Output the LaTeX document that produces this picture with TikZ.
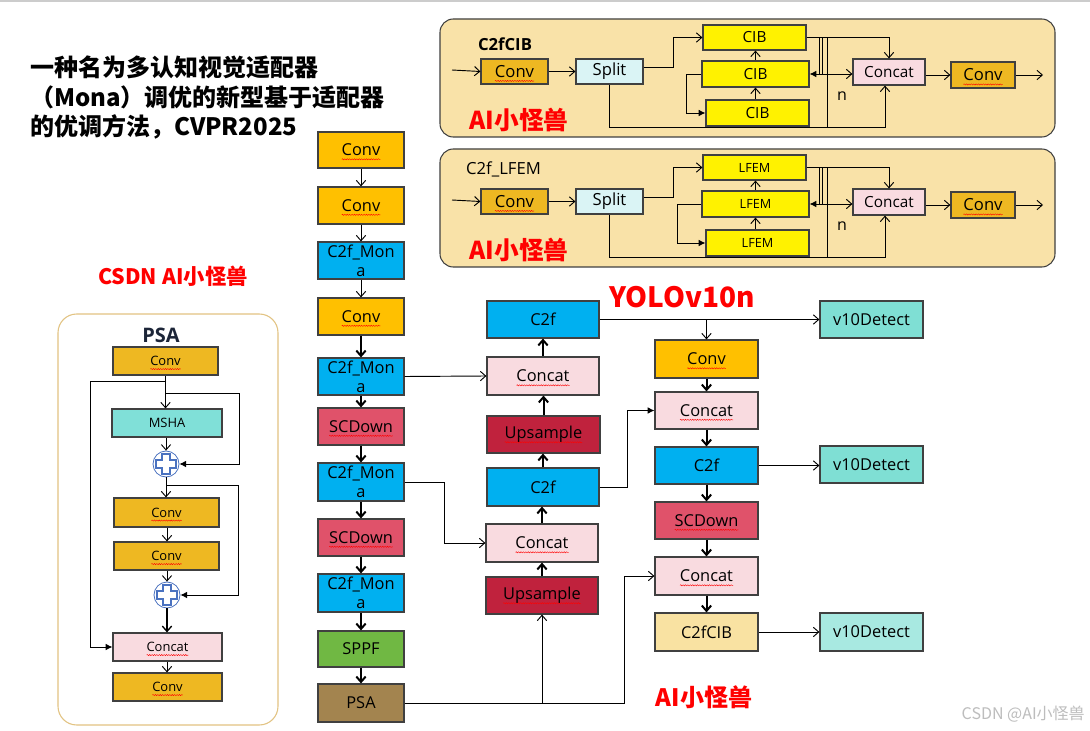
\documentclass[tikz,border=0pt]{standalone}
\usepackage{fontspec}
\setmainfont{Open Sans}
\newfontfamily\cjk{Noto Sans CJK SC}
\usetikzlibrary{arrows.meta,calc,decorations.pathmorphing}
\definecolor{cConv}{HTML}{FFC000}
\definecolor{cMona}{HTML}{00B0F0}
\definecolor{cSCD}{HTML}{E0526A}
\definecolor{cSPPF}{HTML}{70B843}
\definecolor{cPSA}{HTML}{A3844F}
\definecolor{cCat}{HTML}{F9DBE0}
\definecolor{cUp}{HTML}{C0223D}
\definecolor{cDet}{HTML}{7FDFD4}
\definecolor{cDetL}{HTML}{A8E9E1}
\definecolor{cCIBn}{HTML}{F9E2A2}
\definecolor{cPanel}{HTML}{F9E2A8}
\definecolor{cGold}{HTML}{EEB822}
\definecolor{cSplit}{HTML}{DAF4F5}
\definecolor{cMSHA}{HTML}{80E0D8}
\definecolor{cPsaBorder}{HTML}{E2C382}
\definecolor{cPlus}{HTML}{4A72C0}
\definecolor{cRed}{HTML}{FF0000}
\definecolor{cMark}{HTML}{BDBDBD}
\definecolor{cPsaT}{HTML}{1C2538}
\definecolor{cEdge}{HTML}{404040}
\definecolor{cTop}{HTML}{CCCCCC}
\newsavebox\sqbox
\newcommand\sq[1]{\sbox\sqbox{#1}\rlap{\tikz[overlay]\draw[red, line width=0.3pt, decorate, decoration={snake, amplitude=0.45pt, segment length=1.8pt}] (0pt,-2.6pt) -- (\wd\sqbox,-2.6pt);}\usebox\sqbox}
\newcommand\bx[7]{\node[#6, minimum width={(#4-#2)*0.75pt}, minimum height={(#5-#3)*0.75pt}] (#1) at ({(#2+#4)/2},{(#3+#5)/2}) {#7};}
\newcommand\crossat[1]{\draw[cPlus, line width=0.9pt, fill=white, shift={(#1)}] (-4,-10) -- (4,-10) -- (4,-4) -- (10,-4) -- (10,4) -- (4,4) -- (4,10) -- (-4,10) -- (-4,4) -- (-10,4) -- (-10,-4) -- (-4,-4) -- cycle;}
% #1 prefix, #2 yshift, #3 title, #4 block text, #5 title position, #6 loop offset
\newcommand\cfpanel[6]{%
\begin{scope}[yshift=#2]
\bx{#1bg}{440}{19}{1055}{137}{draw=cEdge, line width=0.8pt, rounded corners=10pt, fill=cPanel}{}
\node[font=\fontsize{12.5}{14}\selectfont, inner sep=0pt] (#1title) at #5 {#3};
\bx{#1conv}{481}{59}{548}{84}{cbx,fill=cGold}{\sq{Conv}}
\bx{#1split}{576}{59}{643}{84}{cbx,fill=cSplit}{Split}
\bx{#1ba}{703}{25}{806}{50}{cbx,fill=yellow}{#4}
\bx{#1bb}{702}{61}{809}{87}{cbx,fill=yellow}{#4}
\bx{#1bc}{706}{100}{809}{126}{cbx,fill=yellow}{#4}
\bx{#1cat}{853}{59}{925}{85}{cbx,fill=cCat,font=\fontsize{11.5}{13}\selectfont}{Concat}
\bx{#1convb}{951}{62}{1015}{88}{cbx,fill=cGold}{\sq{Conv}}
\coordinate (#1in) at (452,70);
\coordinate (#1out) at (1043,75);
\draw[ar] (#1in) -- (#1conv.west);
\draw[ar] (#1conv.east) -- (#1split.west);
\draw[ar] ([yshift=3pt]#1split.east) -- ++(30,0) |- (#1ba.west);
\draw[ar] (#1bb.north) -- (#1bb.north |- #1ba.south);
\draw[ar] (#1bb.south |- #1bc.north) -- (#1bb.south);
\draw[fa] (#1bb.west) -- ++(#6,0) |- (#1bc.west);
\draw[ar] (#1ba.east) -| (#1cat.north);
\coordinate (#1j) at (819.5,74);
\draw[ln] (819.5,37.5) -- (#1j);
\draw[ln] (822.5,37.5) -- (822.5,74);
\draw[fa] (#1j) -- (#1bb.east);
\draw[ar] (#1j) -- (#1cat.west |- #1bb.east);
\draw[ar] (#1split.south) -- (609.5,127) -| ([xshift=-3pt]#1cat.south);
\draw[ln] (827.5,37.5) -- (827.5,127);
\node[font=\fontsize{12}{13}\selectfont, inner sep=0pt] (#1n) at (842,96) {n};
\node[lbl, font=\cjk\bfseries\fontsize{18.5}{20}\selectfont] (#1ai) at (519,120) {AI小怪兽};
\draw[ar] (#1cat.east |- #1convb.west) -- (#1convb.west);
\draw[ar] (#1convb.east) -- (#1out);
\end{scope}}
\begin{document}
\begin{tikzpicture}[x=0.75pt,y=-0.75pt,
  bx/.style={draw=cEdge, line width=0.9pt, inner sep=0pt, align=center, font=\fontsize{12.3}{14}\selectfont},
  cbx/.style={bx, font=\fontsize{12.5}{14}\selectfont},
  pbx/.style={bx, font=\fontsize{9.7}{11}\selectfont},
  ar/.style={line width=0.7pt, -{Straight Barb[length=4pt,width=7pt]}},
  tk/.style={line width=1.5pt, -{Straight Barb[length=4pt,width=7pt]}},
  fa/.style={line width=0.7pt, -{Latex[length=5pt,width=5pt]}},
  ln/.style={line width=0.7pt},
  lbl/.style={text=cRed, inner sep=0pt},
  pl/.style={circle, draw=cPlus, fill=white, line width=0.6pt, minimum size=19.5pt, inner sep=0pt},
]
\useasboundingbox[fill=white] (0,0) rectangle (1090,731);
\draw[cTop, line width=1.2pt] (0,1) -- (1090,1);

% title
\node[anchor=north west, align=left, inner sep=0pt, font=\cjk\bfseries\fontsize{18}{22}\selectfont] (title) at (30,56) {一种名为多认知视觉适配器\\（Mona）调优的新型基于适配器\\的优调方法，CVPR2025};

% panels
\cfpanel{pa}{0pt}{\bfseries C2fCIB}{\fontsize{11.5}{13}\selectfont CIB}{(505,44)}{-15}
\cfpanel{pb}{-97.5pt}{C2f\_LFEM}{\fontsize{9.5}{11}\selectfont LFEM}{(503.5,39)}{-23.5}

% PSA panel
\bx{psabg}{58}{314}{278}{725}{draw=cPsaBorder, line width=0.8pt, rounded corners=14pt, fill=white}{}
\node[font=\bfseries\fontsize{15}{16}\selectfont, text=cPsaT, inner sep=0pt] (psat) at (161,335) {PSA};
\bx{pc1}{113}{347}{218}{375}{pbx,fill=cGold}{\sq{Conv}}
\bx{pmsha}{112}{409}{222}{437}{pbx,fill=cMSHA}{MSHA}
\node[pl] (pp1) at (166,464) {};
\crossat{pp1}
\bx{pc2}{114}{498}{219}{527}{pbx,fill=cGold}{\sq{Conv}}
\bx{pc3}{114}{542}{219}{570}{pbx,fill=cGold}{\sq{Conv}}
\node[pl] (pp2) at (167,595) {};
\crossat{pp2}
\bx{pcat}{113}{633}{222}{661}{pbx,fill=cCat}{\sq{Concat}}
\bx{pc4}{113}{673}{222}{701}{pbx,fill=cGold}{\sq{Conv}}
\coordinate (pj1) at (166,381);
\coordinate (pj2) at (166,393);
\coordinate (pj3) at (167,485);
\draw[ar] (pc1.south) -- (pc1.south |- pmsha.north);
\draw[fa] (pj1) -- (90,381) |- (pcat.west);
\draw[fa] (pj2) -- (239,393) |- (pp1.east);
\draw[ar] (pmsha.south -| pp1.north) -- (pp1.north);
\draw[ar] (pp1.south) -- (pp1.south |- pc2.north);
\draw[fa] (pj3) -- (238,485) |- (pp2.east);
\draw[ar] (pc2.south -| pp2.north) -- (pc3.north -| pp2.north);
\draw[ar] (pc3.south -| pp2.north) -- (pp2.north);
\draw[ar, line width=1pt] (pp2.south) -- (pp2.south |- pcat.north);
\draw[ar] (pcat.south -| pp2.south) -- (pc4.north -| pp2.south);

% labels
\node[lbl, font=\cjk\bfseries\fontsize{16}{18}\selectfont] (csdn) at (173,276) {CSDN AI小怪兽};
\node[lbl, font=\cjk\bfseries\fontsize{21}{24}\selectfont] (yolo) at (682,297) {YOLOv10n};
\node[lbl, font=\cjk\bfseries\fontsize{18}{20}\selectfont] (aib) at (704,697) {AI小怪兽};
\node[text=cMark, font=\cjk\fontsize{12}{14}\selectfont, anchor=east, inner sep=0pt] (wm) at (1085,714) {CSDN @AI小怪兽};

% backbone
\bx{b1}{318}{132}{404}{168}{bx,fill=cConv}{\sq{Conv}}
\bx{b2}{318}{187}{404}{224}{bx,fill=cConv}{\sq{Conv}}
\bx{b3}{318}{242}{404}{279}{bx,fill=cMona}{C2f\_Mon\\a}
\bx{b4}{318}{298}{404}{335}{bx,fill=cConv}{\sq{Conv}}
\bx{b5}{318}{358}{404}{395}{bx,fill=cMona}{C2f\_Mon\\a}
\bx{b6}{318}{408}{404}{445}{bx,fill=cSCD}{\sq{SCDown}}
\bx{b7}{318}{463}{404}{501}{bx,fill=cMona}{C2f\_Mon\\a}
\bx{b8}{318}{519}{404}{556}{bx,fill=cSCD}{\sq{SCDown}}
\bx{b9}{318}{574}{404}{612}{bx,fill=cMona}{C2f\_Mon\\a}
\bx{b10}{318}{631}{404}{667}{bx,fill=cSPPF}{SPPF}
\bx{b11}{318}{684}{404}{722}{bx,fill=cPSA}{PSA}

% neck middle
\bx{m1}{487}{301}{599}{338}{bx,fill=cMona}{C2f}
\bx{m2}{487}{357}{599}{395}{bx,fill=cCat}{\sq{Concat}}
\bx{m3}{487}{416}{600}{453}{bx,fill=cUp}{\sq{Upsample}}
\bx{m4}{487}{468}{599}{506}{bx,fill=cMona}{C2f}
\bx{m5}{486}{524}{598}{562}{bx,fill=cCat}{\sq{Concat}}
\bx{m6}{486}{577}{598}{614}{bx,fill=cUp}{\sq{Upsample}}

% right column
\bx{r1}{655}{340}{758}{378}{bx,fill=cConv}{\sq{Conv}}
\bx{r2}{655}{392}{758}{429}{bx,fill=cCat}{\sq{Concat}}
\bx{r3}{655}{447}{758}{484}{bx,fill=cMona}{C2f}
\bx{r4}{655}{502}{758}{539}{bx,fill=cSCD}{\sq{SCDown}}
\bx{r5}{655}{557}{758}{595}{bx,fill=cCat}{\sq{Concat}}
\bx{r6}{655}{613}{758}{651}{bx,fill=cCIBn}{C2fCIB}
\bx{d1}{820}{301}{923}{338}{bx,fill=cDet}{v10Detect}
\bx{d2}{820}{446}{923}{483}{bx,fill=cDet}{v10Detect}
\bx{d3}{820}{613}{923}{651}{bx,fill=cDetL}{v10Detect}

% connectors
\draw[ar] (b1.south) -- (b2.north);
\draw[ar] (b2.south) -- (b3.north);
\draw[ar] (b3.south) -- (b4.north);
\foreach \a/\b in {b4/b5,b5/b6,b6/b7,b7/b8,b8/b9,b9/b10,b10/b11}
  \draw[tk] (\a.south) -- (\b.north);
\foreach \a/\b in {m2/m1,m3/m2,m4/m3,m5/m4,m6/m5}
  \draw[tk] (\a.north) -- (\a.north |- \b.south);
\foreach \a/\b in {r1/r2,r2/r3,r3/r4,r4/r5,r5/r6}
  \draw[tk] (\a.south) -- (\b.north);
\draw[ar] (m1.east) -- (d1.west);
\draw[ar] (r1.north |- m1.east) -- (r1.north);
\draw[ar] (r3.east) -- (r3.east -| d2.west);
\draw[ar] (r6.east) -- (d3.west);
\draw[ar] (b5.east) -- (m2.west);
\draw[ar] (b7.east) -- ++(40,0) |- (m5.west);
\draw[fa] (m4.east) -- ++(28,0) |- (r2.west);
\draw[ar] (b11.east) -| (m6.south);
\draw[ar] (b11.east) -- ++(220,0) |- (r5.west);
\end{tikzpicture}
\end{document}
